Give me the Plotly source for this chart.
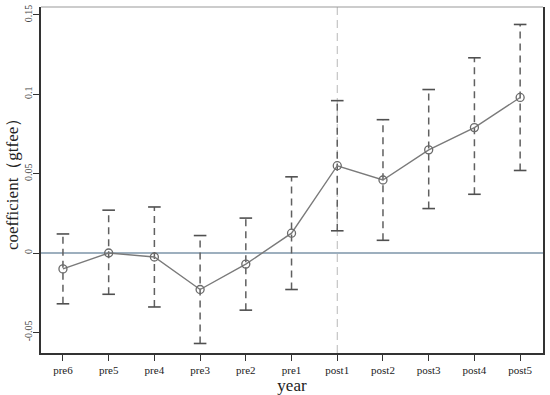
import plotly.graph_objects as go

years = ["pre6", "pre5", "pre4", "pre3", "pre2", "pre1", "post1", "post2", "post3", "post4", "post5"]
coef = [-0.010, 0.000, -0.0025, -0.023, -0.007, 0.0125, 0.055, 0.046, 0.065, 0.079, 0.098]
ci_low = [-0.032, -0.026, -0.034, -0.057, -0.036, -0.023, 0.014, 0.008, 0.028, 0.037, 0.052]
ci_high = [0.012, 0.027, 0.029, 0.011, 0.022, 0.048, 0.096, 0.084, 0.103, 0.123, 0.144]
y_ticks = [-0.05, 0, 0.05, 0.1, 0.15]
y_tick_labels = ["-0.05", "0", "0.05", "0.1", "0.15"]
event_year = "post1"
y_title = "coefficient（gtfee）"

xs = list(range(len(years)))
fig = go.Figure()

# zero line
fig.add_hline(y=0, line=dict(color="#7d95a8", width=1.6), layer="below")
# event line
fig.add_vline(x=years.index(event_year), line=dict(color="#b8b8b8", width=1, dash="8px,5px"), layer="below")
# top border (lighter)
fig.add_shape(type="line", xref="paper", yref="paper", x0=0, x1=1, y0=1, y1=1,
              line=dict(color="#9a9a9a", width=1.2))

# dashed CI whiskers
for i in xs:
    fig.add_trace(go.Scatter(x=[i, i], y=[ci_low[i], ci_high[i]], mode="lines",
                             line=dict(color="#606060", width=1.5, dash="7px,5px"),
                             showlegend=False, hoverinfo="skip"))
# caps
fig.add_trace(go.Scatter(x=xs + xs, y=ci_low + ci_high, mode="markers",
                         marker=dict(symbol="line-ew", size=9, line=dict(color="#505050", width=1.6)),
                         showlegend=False, hoverinfo="skip"))
# coefficient line
fig.add_trace(go.Scatter(x=xs, y=coef, mode="lines+markers",
                         line=dict(color="#7a7a7a", width=1.4),
                         marker=dict(symbol="circle-open", size=8, color="#6a6a6a", line=dict(width=1.3)),
                         showlegend=False))

font_family = "Liberation Serif, Times New Roman, serif"
fig.update_layout(
    width=550, height=395,
    margin=dict(l=41, r=5, t=7, b=42),
    plot_bgcolor="white", paper_bgcolor="white",
    font=dict(family=font_family, color="#222222"),
)
fig.add_annotation(text=y_title, xref="paper", yref="paper", x=0, y=0.5,
                   xanchor="center", yanchor="middle", xshift=-29, textangle=-90,
                   showarrow=False, font=dict(size=17, family=font_family, color="#222222"))
fig.update_xaxes(
    range=[-0.48, 10.5], tickmode="array", tickvals=xs, ticktext=years,
    ticks="outside", ticklen=6, tickcolor="#333", tickwidth=1.3,
    showline=True, linecolor="#333", linewidth=1.6, mirror=False,
    showgrid=False, zeroline=False,
    tickfont=dict(size=11, family=font_family),
    title=dict(text="year", font=dict(size=17, family=font_family), standoff=0),
)
fig.update_yaxes(
    range=[-0.063, 0.155], tickmode="array", tickvals=y_ticks, ticktext=y_tick_labels,
    ticks="outside", ticklen=6, tickcolor="#333", tickwidth=1.3, tickangle=-90,
    ticklabelstandoff=-3,
    showline=True, linecolor="#333", linewidth=1.6, mirror=True,
    showgrid=False, zeroline=False,
    tickfont=dict(size=10, family=font_family, color="#444444"),
)

fig.write_html("out.html", config={"displayModeBar": False},
               post_script="document.body.style.margin='0';document.body.style.padding='0';")
